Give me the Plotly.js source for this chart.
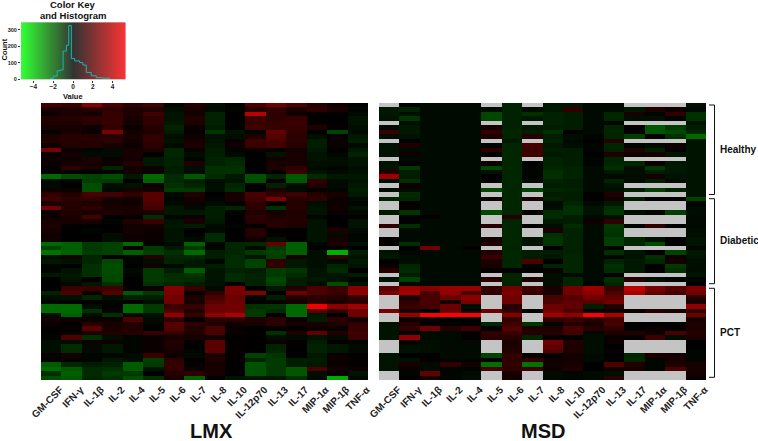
<!DOCTYPE html>
<html>
<head>
<meta charset="utf-8">
<script src="https://cdn.plot.ly/plotly-3.0.1.min.js"></script>
<style>html,body{margin:0;padding:0;background:#fff}#chart{width:758px;height:441px}</style>
</head>
<body>
<div id="chart"></div>
<script>
const cytokines = ["GM-CSF","IFN-γ","IL-1β","IL-2","IL-4","IL-5","IL-6","IL-7","IL-8","IL-10","IL-12p70","IL-13","IL-17","MIP-1α","MIP-1β","TNF-α"];

const lmxHealthy = [
[1.4,1.2,2.8,1.5,1.0,1.3,-0.1,0.7,-0.3,0.1,1.5,2.3,1.6,0.8,0.3,0],
[0.5,0.6,0.8,1.0,0.6,0.7,-0.3,0.5,-0.2,-0.1,0.8,1.0,0.5,0.9,0.5,-0.1],
[0.3,0.6,0.4,1.1,0.6,1.3,-0.4,0.4,-0.7,0,3.8,0.9,0.3,0.1,0.1,-0.2],
[0.7,0.8,1.0,1.1,0.5,1.0,-0.4,0.7,-0.7,0,1.2,1.0,1.1,0.1,0,-0.4],
[0.6,0.6,0.9,1.2,0.4,1.0,-0.5,0.6,-0.7,0.1,1.2,1.1,1.2,0.1,0,-0.4],
[0.5,0.5,0.3,1.0,0.2,0.8,-0.7,0.2,-0.6,0,1.3,1.1,1.1,0.6,0.1,-0.3],
[0.1,0.5,0.2,2.6,0.4,0.6,-0.6,0.1,-1.1,-0.4,-0.1,2.0,1.0,0,-1.4,-0.2],
[0.6,0.8,0.8,0.8,0.5,1.0,-0.3,0.3,-0.4,-0.3,0.6,1.8,0.9,-0.3,0.1,-0.5],
[0.7,0.8,0.8,0.9,0.4,1.0,-0.4,0.5,-0.4,0.2,1.3,1.4,0.9,-0.6,0.2,-0.6],
[0.3,0.7,0.8,0.5,0.3,0.9,-0.2,0.6,-0.5,0.3,1.2,1.4,0.8,-0.6,0.2,-0.2],
[2.5,0.2,-0.1,-0.2,0.5,0.6,-0.8,0.2,-0.6,-0.1,0.2,0.2,0.4,-0.5,0,-0.5],
[0.2,0.4,-0.2,-0.2,0.5,0,-0.8,-0.3,-0.6,-0.2,0,-0.4,0.5,-0.4,-0.1,-0.7],
[0.3,0.3,0.6,0.2,0.4,-0.5,-0.7,-0.1,-0.7,-0.8,0,0.4,0.5,-0.4,-0.3,-0.4],
[0.2,0.4,0.5,0.3,0.7,-0.5,-0.7,0.6,-0.7,-0.9,0,0.5,0.5,-0.3,-0.3,-0.4],
[0.1,1.0,0.5,-0.8,0.4,0.3,-0.6,-0.3,-1.0,-1.0,0,0.6,1.0,-0.2,-0.1,-0.3],
[0.1,0,0,-0.1,0.4,0.2,-0.6,-0.2,-1.0,-1.0,0,0.1,1.2,-0.4,-0.2,-0.3],
[-2.2,-1.6,-1.4,-1.6,-0.5,-2.2,-0.9,-1.8,-0.9,-0.5,-1.7,-0.8,-1.9,-0.9,-0.5,-0.5],
[-0.2,-0.1,-1.3,-1.2,0,-2.0,-0.9,-0.6,-0.3,-0.4,-1.6,0.3,-1.8,1.0,-0.2,-0.4],
[-0.2,0,-1.6,-0.3,-0.4,0.3,-1.0,-0.8,-0.3,-0.8,0,-0.7,-0.2,0.7,-0.2,-0.5],
[0.3,0.2,-1.6,-0.2,0.5,0.4,-1.2,-1.2,-0.3,-0.9,0,0.6,-0.2,0.1,-0.1,-0.6],
[1.0,0.7,1.5,1.4,1.0,1.8,-0.2,0.7,0,0.5,1.5,1.0,1.3,0.7,0.5,-0.5]
];
const lmxDiabetic = [
[1.3,0.9,1.0,0.4,0.4,1.8,-0.1,0.4,-0.1,0.5,1.4,2.6,0.8,1.0,0.2,-0.2],
[0.5,0.8,0.6,0.4,0.3,1.6,-0.2,0.3,-0.2,0.1,1.0,0.1,0.8,-0.3,0.3,-0.1],
[2.4,0.7,1.0,0.5,0.5,1.4,-0.5,-0.2,-0.6,-0.8,0.9,-1.0,0.8,-0.4,0.3,-0.4],
[0.3,0.7,0.5,0.6,0.5,0.6,-0.5,-0.5,-0.6,-0.1,0.7,0.4,0.6,-0.4,0.2,-0.2],
[0.3,0.5,1.4,0,0.1,-1.0,-0.1,0.3,-0.6,0,0.9,0.6,0.7,-0.1,0,0.1],
[0.5,0.5,0.5,-0.1,0.7,1.2,-0.4,0.5,-0.5,0,0.8,0.8,0.7,-0.4,0,-0.4],
[0.6,0.1,0,0,0.4,0.4,-0.5,-0.6,-0.2,-0.1,0.1,0.8,0.6,-0.4,0,-0.4],
[0.5,0,-0.1,0.1,0.4,0.3,-0.4,0,-0.2,0,0.8,0,0,-0.4,0.6,-0.2],
[0.3,0,0,-0.3,0.3,0.2,-0.4,-0.1,-0.9,0,0.8,0.2,0.1,-0.4,-0.2,-0.1],
[0.4,0,0,-0.3,0.3,0.2,-0.4,-0.2,-0.9,0,0.3,-0.4,0,-0.4,0.5,-0.1],
[-2.2,-2.0,-1.2,-1.3,-2.2,0.1,-0.2,-2.0,-0.1,-0.8,-0.9,2.0,-2.0,-0.1,0.6,-0.4],
[-1.4,-2.0,-1.2,-1.4,0.3,-1.2,-0.5,-1.2,-0.1,-0.8,-0.2,-1.2,-2.0,0,-0.1,0],
[-2.4,-2.0,-1.2,-1.4,-2.0,-1.3,-1.0,-2.2,-0.6,-0.8,-1.2,-1.4,-2.0,-0.3,-3.6,-0.6],
[-0.3,0.4,-0.8,0.1,-0.1,0.8,-0.8,-0.8,-0.6,-0.9,-0.4,-1.3,0.5,-0.3,1.0,-0.4],
[-0.5,-0.4,-0.8,-1.5,-0.1,-0.3,-0.7,-0.5,-0.1,-0.9,-1.4,1.0,-0.5,-0.3,-0.2,-0.5],
[-0.1,0,-1.0,-1.6,0,0.4,-0.2,-0.5,-0.6,-0.9,-1.4,1.0,-0.5,-0.3,-0.8,-0.4],
[-0.1,-0.4,-1.0,-1.6,-0.2,-1.2,-0.6,-1.9,-0.4,-0.7,-0.6,-1.2,-1.1,-0.4,-0.9,0.1],
[-0.5,-0.5,-1.0,-1.5,-0.1,-1.2,-0.9,-1.1,-0.4,-0.9,-0.7,-1.2,-0.9,-0.4,-0.4,-0.6],
[0,-0.4,0.1,-1.5,0,-1.2,-1.0,-0.9,-0.4,-0.9,-0.7,-1.5,-0.6,-0.5,-0.4,-0.1],
[0,-0.2,-0.5,-1.0,0,-1.0,-0.8,-0.6,-0.4,0.2,-0.7,-1.3,-0.6,-0.3,-1.6,-0.4]
];
const lmxPCT = [
[0,1.2,1.2,1.3,0.1,0.3,2.7,1.2,-0.2,2.6,0.1,-0.5,0.7,1.5,1.2,2.8],
[-0.7,1.6,0.3,1.7,-1.8,-1.2,2.6,0.1,1.0,2.5,2.7,0.1,2.2,1.6,1.2,2.9],
[-0.3,-0.4,-0.8,-0.3,-0.7,-0.6,2.4,0.6,1.5,2.2,-0.1,-0.6,0.7,0.9,0.8,1.1],
[-0.1,0,0.1,-0.1,0.1,-0.3,2.4,0.5,1.8,2.3,0,0.1,0.4,0.9,0.5,0.9],
[-2.2,-2.2,-0.3,0,-2.2,-1.2,1.2,1.1,2.2,2.4,-1.0,-1.1,-2.2,5.0,2.8,3.3],
[-2.2,-2.2,-1.0,-0.1,-2.2,-1.2,1.6,0.7,2.2,2.4,-1.2,-0.9,-2.2,1.8,1.0,2.2],
[-0.3,-2.0,-0.3,-1.0,-0.2,-0.4,3.0,1.1,3.0,3.6,-1.2,0,-2.2,-0.5,0,2.3],
[0.4,0.3,0.2,0.3,1.6,-0.2,1.0,0.1,0.9,0.9,0.6,0.9,0.3,-0.6,0.9,0.3],
[0.2,0.1,0.8,0.5,0.7,-0.1,1.8,1.0,0.6,0.3,0.5,0.9,0.4,0.5,0.6,1.0],
[0.1,0.1,1.8,0.5,0.7,0,1.8,0.7,1.5,0.2,0,0.1,0.1,0.2,0.2,1.2],
[0.1,0.2,0.6,0.7,0.8,1.1,1.0,0.6,1.5,0.2,0.1,-1.0,0.6,2.0,0.7,1.3],
[-0.1,1.6,-1.0,-0.3,-0.1,0.2,0.5,0.5,0.4,0,0,-0.3,-0.2,-0.4,-0.2,1.2],
[-0.3,-0.3,0.3,0.3,-0.1,0.2,0.7,0.1,1.9,0.1,0,0.3,0.1,-0.6,0.1,-0.1],
[-0.3,-0.9,-0.2,-0.5,-0.1,0.2,0.6,0,1.9,0.1,0,-0.7,0,-0.7,-0.5,-0.2],
[-0.3,-0.9,-0.2,-0.5,-0.1,0.2,0.5,-0.1,1.9,0.1,0,-0.8,0,-0.7,-0.5,-0.2],
[0.2,0.4,-0.1,-0.1,-0.2,1.2,0.3,-0.2,0.6,0.1,-1.4,-1.1,0,-0.5,0.2,0.1],
[0.1,0.1,-0.1,-0.5,-0.3,-1.3,1.0,0.1,0.6,0.1,-0.8,-1.2,-0.6,-0.6,0.3,0.1],
[-1.9,-0.8,-0.6,-0.7,-1.9,-1.2,1.1,-0.1,0.5,0,-1.7,-1.2,-0.6,-0.5,0.2,0.1],
[-2.2,-1.8,-0.9,-1.0,-1.9,-0.4,1.0,0.3,0.5,0.1,-1.7,-1.2,-1.8,1.6,0.4,0.3],
[-1.0,-2.0,-0.9,-1.2,-1.2,0,0.8,1.0,0.5,0,-1.7,-1.2,-1.8,-0.3,0.1,-0.4],
[-1.6,-1.8,-0.8,-1.0,-1.6,-1.0,0.5,-2.0,0,-0.4,-0.5,-0.5,-1.0,-0.2,-3.5,-0.2]
];

const msdHealthy = [
[null,0,-0.2,-0.2,-0.2,null,-0.7,null,-0.5,-0.5,-0.2,-0.2,null,null,null,-0.4],
[-0.5,-0.7,-0.2,-0.2,-0.2,-0.2,-0.7,-0.2,-0.5,1.0,-0.2,-0.2,-0.5,0.6,0.3,-0.2],
[-0.5,-0.3,-0.2,-0.2,-0.2,-1.5,-0.7,-1.0,-0.7,-0.6,-0.2,-0.8,0.5,-0.1,1.0,-1.0],
[-0.4,-1.1,-0.2,-0.2,-0.2,-1.5,-0.7,-0.5,-0.7,-0.6,-0.2,-0.8,-0.3,-0.3,-0.1,-1.0],
[null,-0.3,-0.2,-0.2,-0.2,null,-0.7,null,-0.7,-0.6,-0.2,-0.1,null,null,null,-0.4],
[-0.2,-0.5,-0.2,-0.2,-0.2,0.4,-0.7,-0.5,-0.6,-0.6,-0.2,-0.8,0.1,-1.8,-1.2,-0.6],
[1.2,-0.5,-0.2,-0.2,-0.2,1.0,-0.8,-0.6,-1.0,0.1,-0.2,-0.8,0.1,-1.8,-1.5,-0.8],
[-0.3,-0.4,-0.2,-0.2,-0.2,0.6,-0.7,0.8,-0.6,-0.3,-0.1,-0.8,-1.3,0.1,-1.0,-2.2],
[null,0,-0.2,-0.2,-0.2,null,-0.5,null,-0.7,-0.2,0.1,0.8,null,null,null,-0.4],
[-0.4,0.6,-0.2,-0.2,-0.2,-0.1,-0.8,1.4,-0.5,-0.3,-0.1,-0.8,-0.1,-0.2,0.3,-0.4],
[-0.4,-0.2,-0.2,-0.2,-0.2,0.9,-0.8,1.3,-0.6,-0.6,-0.1,-0.7,0.7,-0.6,0.1,-0.4],
[-0.4,0.3,-0.2,-0.2,-0.2,0.1,-0.8,1.3,-0.5,-0.6,0,0.6,0.3,0.4,-0.4,-0.4],
[null,-0.2,-0.2,-0.2,-0.2,null,-0.8,null,-0.7,-0.6,-0.1,-0.8,null,null,null,-0.4],
[-0.4,0.1,-0.2,-0.2,-0.2,0.3,-0.8,0,-0.7,-0.6,-0.1,-0.8,-0.8,0.2,-0.5,-0.4],
[-0.4,-1.2,-0.2,-0.2,-0.2,-1.5,-0.8,-0.1,-0.8,-0.7,-0.2,-1.0,-0.3,-1.2,-0.5,-0.4],
[0.7,-0.6,-0.2,-0.2,-0.2,-0.4,-0.8,-0.1,-1.0,-0.7,-0.2,-0.5,-0.3,-0.6,-0.5,-0.4],
[3.2,-0.6,-0.2,-0.2,-0.2,0,-0.8,-0.1,-1.0,-0.7,-0.2,-0.2,-0.3,0.4,-0.4,-0.4],
[-0.3,-1.0,-0.2,-0.2,-0.2,0,-0.8,-0.2,-0.7,-0.6,-0.2,-0.7,-0.2,-0.6,-0.2,-0.4],
[null,0.3,-0.2,-0.2,-0.2,null,-0.8,null,-0.6,-0.6,-0.2,-0.4,null,null,null,-0.4],
[-0.2,-0.2,-0.2,-0.2,-0.2,-1.5,-0.8,-1.4,-0.8,-0.7,-0.2,-0.3,-0.6,-1.3,-0.7,-0.4],
[null,-0.9,-0.2,-0.2,-0.2,null,-0.8,null,-0.6,-0.6,0.1,0.6,null,null,null,-0.4]
];
const msdDiabetic = [
[-0.7,-0.8,-0.2,-0.2,-0.2,0.2,-0.8,0.5,-0.7,-0.6,0.1,0.4,-0.6,0,0.1,-1.4],
[null,0.1,-0.2,-0.2,-0.2,null,-0.8,null,-0.2,-0.8,-0.2,-0.5,null,null,null,-0.1],
[null,0.2,-0.2,-0.2,-0.2,null,-0.8,null,-0.3,-1.0,-0.4,-1.0,null,null,null,-0.2],
[-0.5,-1.1,-0.2,-0.2,-0.2,-1.5,-0.8,0.1,-0.9,-1.0,-0.4,-1.1,-0.3,-0.1,-1.3,-0.3],
[null,0,0.1,-0.2,-0.2,null,0.7,null,-0.9,-0.6,-0.2,-0.3,null,null,null,-0.2],
[null,0,-0.2,-0.2,-0.2,null,-0.8,null,-0.5,-0.6,0.3,1.0,null,null,null,-0.2],
[1.0,-1.0,-0.2,-0.2,-0.2,0.8,-0.8,0.1,-0.3,-0.9,-0.2,-1.2,-0.1,1.0,0,-0.2],
[null,-0.2,-0.2,-0.2,-0.2,null,-0.8,null,0.5,-0.7,-0.2,-1.1,null,null,null,-0.3],
[null,-0.2,-0.2,-0.2,-0.2,null,-0.8,null,-1.0,-0.7,-0.2,-1.0,null,null,null,-0.3],
[0.1,-0.2,-0.2,-0.2,-0.2,0.4,-0.8,-0.4,-1.1,-0.7,-0.2,-1.3,-0.8,-0.4,0,-0.4],
[0.1,-1.0,-0.2,-0.2,-0.2,0.7,-0.8,-0.4,-1.1,-0.7,-0.2,-1.3,-0.8,-1.5,0,-0.4],
[null,0,2.4,-0.2,0.1,null,-0.7,null,0.1,-0.7,-0.2,-0.1,null,null,null,-0.1],
[-0.4,-0.1,-0.2,-0.2,-0.2,0.7,-0.8,-0.6,-0.6,-0.7,-0.2,-1.0,-0.4,0.1,-1.4,-0.5],
[-0.5,-0.3,-0.2,-0.2,-0.2,1.2,-0.8,-0.6,-0.5,-0.8,-0.2,-0.1,-0.4,-1.0,0.2,-0.4],
[0,-0.3,-0.2,-0.2,-0.2,0.6,-0.8,1.6,0.1,-0.8,-0.2,-0.7,-0.5,-0.8,0.5,-0.3],
[0.2,-0.8,-0.2,-0.2,-0.2,0.5,-0.8,-0.1,-0.8,-0.8,-0.2,-1.0,-0.5,0,-1.2,-0.3],
[0.8,-0.9,-0.2,-0.2,-0.2,0.1,0,0,0.2,-0.8,-0.2,-0.9,-0.5,0.1,-1.0,-0.3],
[null,-0.6,-0.2,-0.2,-0.2,null,-0.8,null,-0.3,-0.2,-0.2,0,null,null,null,-0.4],
[-0.4,-1.4,-0.2,-0.2,-0.2,0.8,-0.8,0.5,-0.3,-0.8,-0.2,-1.0,0.8,-0.3,-0.1,-0.1],
[null,-0.2,-0.2,-0.2,-0.2,null,-0.7,null,-0.3,-0.8,-0.1,-0.8,null,null,null,0]
];
const msdPCT = [
[1.8,3.2,2.8,3.2,3.2,1.0,2.4,1.3,0.5,2.4,3.2,1.2,4.0,2.5,1.8,2.6],
[2.6,3.4,1.5,3.0,1.5,1.0,2.6,1.1,0.4,2.4,2.9,1.6,3.4,2.0,1.4,2.4],
[null,0.6,1.5,2.2,2.8,null,2.3,null,1.5,1.8,2.4,2.0,null,null,null,0.8],
[null,1.0,1.5,0.4,2.6,null,2.3,null,1.6,2.0,1.8,2.4,null,null,null,0.5],
[null,1.2,1.4,2.2,-0.3,null,0.8,null,2.2,2.0,-0.6,0.7,null,null,null,3.0],
[2.5,0.5,0,2.2,0.3,2.2,1.0,0,2.4,1.6,0.2,0.2,0.3,0.8,0.6,0.9],
[null,3.2,5.3,5.3,5.3,null,2.7,null,3.4,3.0,5.3,3.6,null,null,null,2.3],
[null,0.2,0.2,0.1,0,null,1.0,null,1.0,1.2,0.8,1.3,null,null,null,0.5],
[-0.4,0.8,0,-0.1,0,-0.8,1.3,-1.1,-0.1,0.8,0.5,1.5,0,0,0,0.6],
[-0.4,1.0,2.3,0.8,1.2,0,1.7,0.6,0.6,1.5,0.8,1.0,0,0.2,0,0.6],
[-0.4,0.1,-0.2,-0.2,0.1,1.0,1.2,0.8,0.8,1.4,-0.2,0.6,0.7,0.3,1.5,0.8],
[-0.4,3.0,-0.2,-0.2,0.1,0.9,0.8,-0.8,0.1,0.1,-0.3,0.2,0.1,1.2,-0.3,0.6],
[null,0.2,-0.3,-0.2,-0.2,null,0.5,null,2.4,0.7,-0.3,0.3,null,null,null,0],
[null,-0.3,-0.3,-0.2,-0.2,null,0.6,null,2.0,0.6,-0.3,0,null,null,null,0],
[null,-0.4,-0.3,-0.2,-0.2,null,0.7,null,1.7,0.6,-0.3,0.2,null,null,null,-0.1],
[-0.4,0,0,-0.2,-0.2,-1.4,1.0,0.1,0.1,0.4,-0.2,0,-0.8,0.5,0.4,-0.1],
[-0.4,-0.4,0.1,-0.1,-0.1,0.1,1.0,1.0,0.3,0.4,-0.2,0,-0.8,-0.1,0.5,-0.1],
[-0.4,0.5,-0.2,1.0,0.4,-2.3,1.0,-2.4,0.4,0.5,0,1.6,0.6,-0.1,0.6,0.5],
[-0.4,0.2,-0.2,-0.1,-0.1,1.5,1.0,1.2,0.3,0.6,0,0.3,0.5,-0.1,1.5,0.5],
[null,-0.1,2.0,-0.1,-0.2,null,0.5,null,-0.2,-0.1,-0.2,-0.3,null,null,null,0.4],
[null,0,0.4,-0.1,-0.3,null,0.4,null,-0.2,-0.1,-0.2,0.9,null,null,null,0.2]
];

const histEdges = [-2.35,-2.0,-1.6,-1.3,-1.0,-0.67,-0.43,-0.17,0.17,0.67,1.0,1.34,1.84,2.35,3.0,3.7];
const histCounts = [3,18,50,55,170,205,325,125,110,100,85,40,20,8,5,0];
const keyLevels = [-5.3,0,5.3];
const keyTicksX = [-4,-2,0,2,4];
const keyTicksY = [0,100,200,300];

const W = 758, H = 441;
const px = v => v / W;
const py = v => 1 - v / H;
const font = "Liberation Sans, Arial, sans-serif";

const lmx = [...lmxHealthy, ...lmxDiabetic, ...lmxPCT];
const msd = [...msdHealthy, ...msdDiabetic, ...msdPCT];
const rowIds = lmx.map((_, i) => i);

const mainScale = [[0,"#00ff00"],[0.5,"#000000"],[1,"#ff0000"]];
const keyScale = [[0,"#33ff33"],[0.5,"#333333"],[1,"#ff3333"]];

const traces = [
  {type:"heatmap", x:cytokines, y:rowIds, z:lmx, xaxis:"x", yaxis:"y", colorscale:mainScale, zmin:-5.3, zmax:5.3, showscale:false, hoverongaps:false},
  {type:"heatmap", x:cytokines, y:rowIds, z:msd, xaxis:"x2", yaxis:"y2", colorscale:mainScale, zmin:-5.3, zmax:5.3, showscale:false, hoverongaps:false},
  {type:"heatmap", x:keyLevels, y:[-10,400], z:[keyLevels,keyLevels], xaxis:"x3", yaxis:"y3", colorscale:keyScale, zmin:-5.3, zmax:5.3, zsmooth:"best", showscale:false},
  {type:"scatter", mode:"lines", x:histEdges, y:histCounts, xaxis:"x3", yaxis:"y3", line:{color:"#1fb5ad", width:1, shape:"hv"}}
];

const catAxis = (l, r) => ({
  domain:[px(l), px(r)], type:"category", tickangle:-45, ticks:"", showgrid:false, zeroline:false, showline:false,
  tickfont:{family:font, size:10, color:"#222", weight:700}, ticklabelstandoff:1, ticklabelshift:9, automargin:false, fixedrange:true
});
const rowAxis = {domain:[py(380), py(103)], autorange:false, range:[61.5,-0.5], showticklabels:false, ticks:"", showgrid:false, zeroline:false, showline:false, fixedrange:true};

const bracket = (top, bottom) => [
  {type:"line", xref:"paper", yref:"paper", x0:px(709), x1:px(714.5), y0:py(top), y1:py(top), line:{color:"#111", width:1}},
  {type:"line", xref:"paper", yref:"paper", x0:px(714.5), x1:px(714.5), y0:py(top), y1:py(bottom), line:{color:"#111", width:1}},
  {type:"line", xref:"paper", yref:"paper", x0:px(709), x1:px(714.5), y0:py(bottom), y1:py(bottom), line:{color:"#111", width:1}}
];
const note = (text, x, y, size, anchor, angle) => ({
  text, xref:"paper", yref:"paper", x:px(x), y:py(y), xanchor:anchor || "center", yanchor:"middle", showarrow:false, textangle:angle || 0,
  font:{family:font, size, color:"#111", weight:700}
});

const layout = {
  width:W, height:H, margin:{l:0,r:0,t:0,b:0}, paper_bgcolor:"#ffffff", plot_bgcolor:"#c4c4c4", showlegend:false,
  xaxis:catAxis(41,368), yaxis:{...rowAxis},
  xaxis2:catAxis(379,706), yaxis2:{...rowAxis, anchor:"x2"},
  xaxis3:{domain:[px(21),px(125.5)], range:[-5.25,5.3], tickvals:keyTicksX, ticks:"outside", ticklen:2, tickcolor:"#333", showgrid:false, zeroline:false, tickfont:{family:font,size:6.5,color:"#222",weight:700}, ticklabelstandoff:-1, anchor:"y3", fixedrange:true},
  yaxis3:{domain:[py(79.5),py(22.3)], range:[-3,345], tickvals:keyTicksY, ticks:"outside", ticklen:2, tickcolor:"#333", showgrid:false, zeroline:false, tickfont:{family:font,size:5.5,color:"#222",weight:700}, anchor:"x3", fixedrange:true},
  shapes:[...bracket(105,194.5), ...bracket(198.7,283.7), ...bracket(288.3,377.3)],
  annotations:[
    note("Color Key", 73, 5, 9.5), note("and Histogram", 73, 16, 9.5),
    note("Value", 73, 96, 7.5), note("Count", 4.5, 50, 7.5, "center", -90),
    note("LMX", 211, 431, 20), note("MSD", 543, 431, 20),
    note("Healthy", 717.7, 149, 10, "left"), note("Diabetic", 717.7, 240, 10, "left"), note("PCT", 717.7, 332.5, 10, "left")
  ]
};
Plotly.newPlot("chart", traces, layout, {displayModeBar:false, staticPlot:true});
</script>
</body>
</html>
